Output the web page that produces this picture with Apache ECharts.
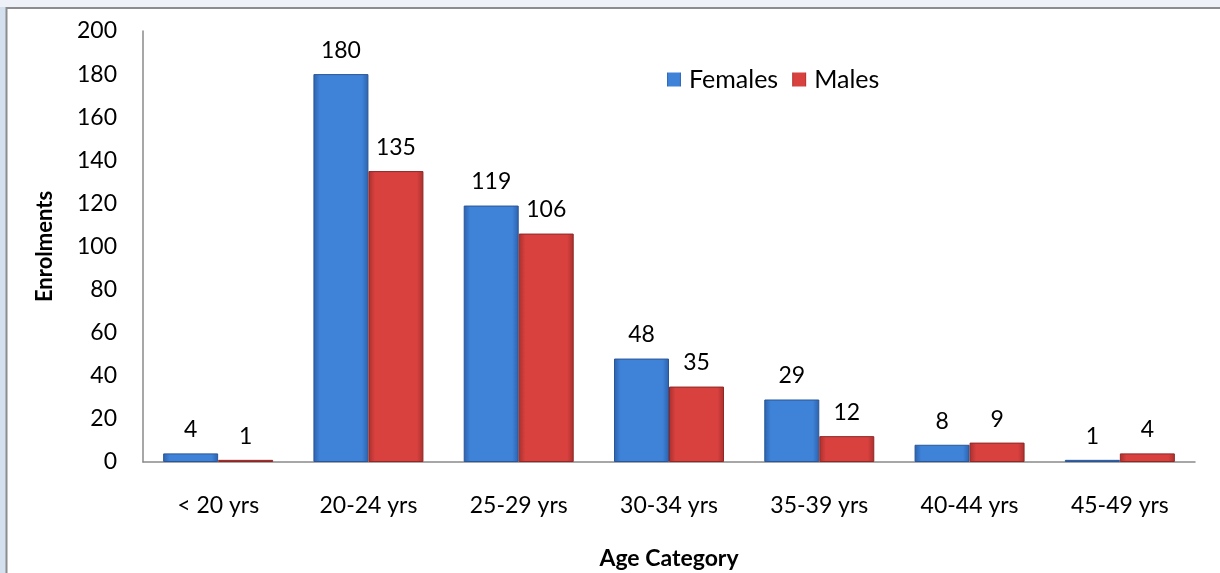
<!DOCTYPE html>
<html>
<head>
<meta charset="utf-8">
<script src="https://cdn.jsdelivr.net/npm/echarts@6/dist/echarts.min.js"></script>
<style>
html,body{margin:0;padding:0;background:#fff;}
#c{width:1220px;height:573px;}
</style>
</head>
<body>
<div id="c"></div>
<script>
const categories = ['< 20 yrs','20-24 yrs','25-29 yrs','30-34 yrs','35-39 yrs','40-44 yrs','45-49 yrs'];
const females = [4,180,119,48,29,8,1];
const males = [1,135,106,35,12,9,4];
const yTicks = {min:0, max:200, interval:20};

const FONT = 'Lato';
const FS = 23;
function grad(edge, mid){
  return new echarts.graphic.LinearGradient(0,0,1,0,[
    {offset:0,color:edge},{offset:0.12,color:mid},{offset:0.88,color:mid},{offset:1,color:edge}
  ]);
}
const chart = echarts.init(document.getElementById('c'));
chart.setOption({
  animation:false,
  backgroundColor:'#fff',
  textStyle:{fontFamily:FONT},
  graphic:[
    {type:'rect',z:-10,shape:{x:0,y:0,width:1220,height:573},style:{fill:new echarts.graphic.LinearGradient(0,0,1,0,[{offset:0,color:'#d5e0ee'},{offset:1,color:'#eef2f8'}])},silent:true},
    {type:'rect',z:-9,shape:{x:0,y:0,width:1220,height:7},style:{fill:'#eef2f8'},silent:true},
    {type:'rect',z:-8,shape:{x:6.5,y:8,width:1240,height:600},style:{fill:'#fff',stroke:'#8c8c8c',lineWidth:2},silent:true}
  ],
  legend:{
    data:['Females','Males'],
    left:662, top:62,
    icon:'rect', itemWidth:14, itemHeight:14, itemGap:14, itemStyle:{borderWidth:0},
    textStyle:{fontSize:25,color:'#000',fontFamily:FONT,padding:[0,0,0,3]}
  },
  grid:{left:143, top:31, right:25, bottom:111, containLabel:false, outerBoundsMode:'none'},
  xAxis:{
    type:'category', data:categories,
    name:'Age Category', nameLocation:'middle', nameGap:85,
    nameTextStyle:{fontSize:FS,fontWeight:'bold',color:'#000',fontFamily:FONT},
    axisLine:{lineStyle:{color:'#8a8a8a',width:1.5}},
    axisTick:{show:false},
    axisLabel:{fontSize:FS,color:'#000',margin:32,fontFamily:FONT}
  },
  yAxis:{
    type:'value', min:yTicks.min, max:yTicks.max, interval:yTicks.interval,
    name:'Enrolments', nameLocation:'middle', nameGap:87, nameRotate:90,
    nameTextStyle:{fontSize:22,fontWeight:'bold',color:'#000',fontFamily:FONT},
    axisLine:{show:true,lineStyle:{color:'#8a8a8a',width:1.5}},
    axisTick:{show:false},
    splitLine:{show:false},
    axisLabel:{fontSize:FS,color:'#000',margin:26,fontFamily:FONT}
  },
  series:[
    {name:'Females',type:'bar',data:females,barWidth:55,barGap:'0%',
     itemStyle:{color:grad('#2c61ad','#3f83d9'),borderColor:'#2a5596',borderWidth:1},
     label:{show:true,position:'top',distance:12,fontSize:FS,color:'#000',fontFamily:FONT}},
    {name:'Males',type:'bar',data:males,barWidth:55,
     itemStyle:{color:grad('#a9302d','#d9413f'),borderColor:'#8f2725',borderWidth:1},
     label:{show:true,position:'top',distance:12,fontSize:FS,color:'#000',fontFamily:FONT}}
  ]
});
</script>
</body>
</html>
